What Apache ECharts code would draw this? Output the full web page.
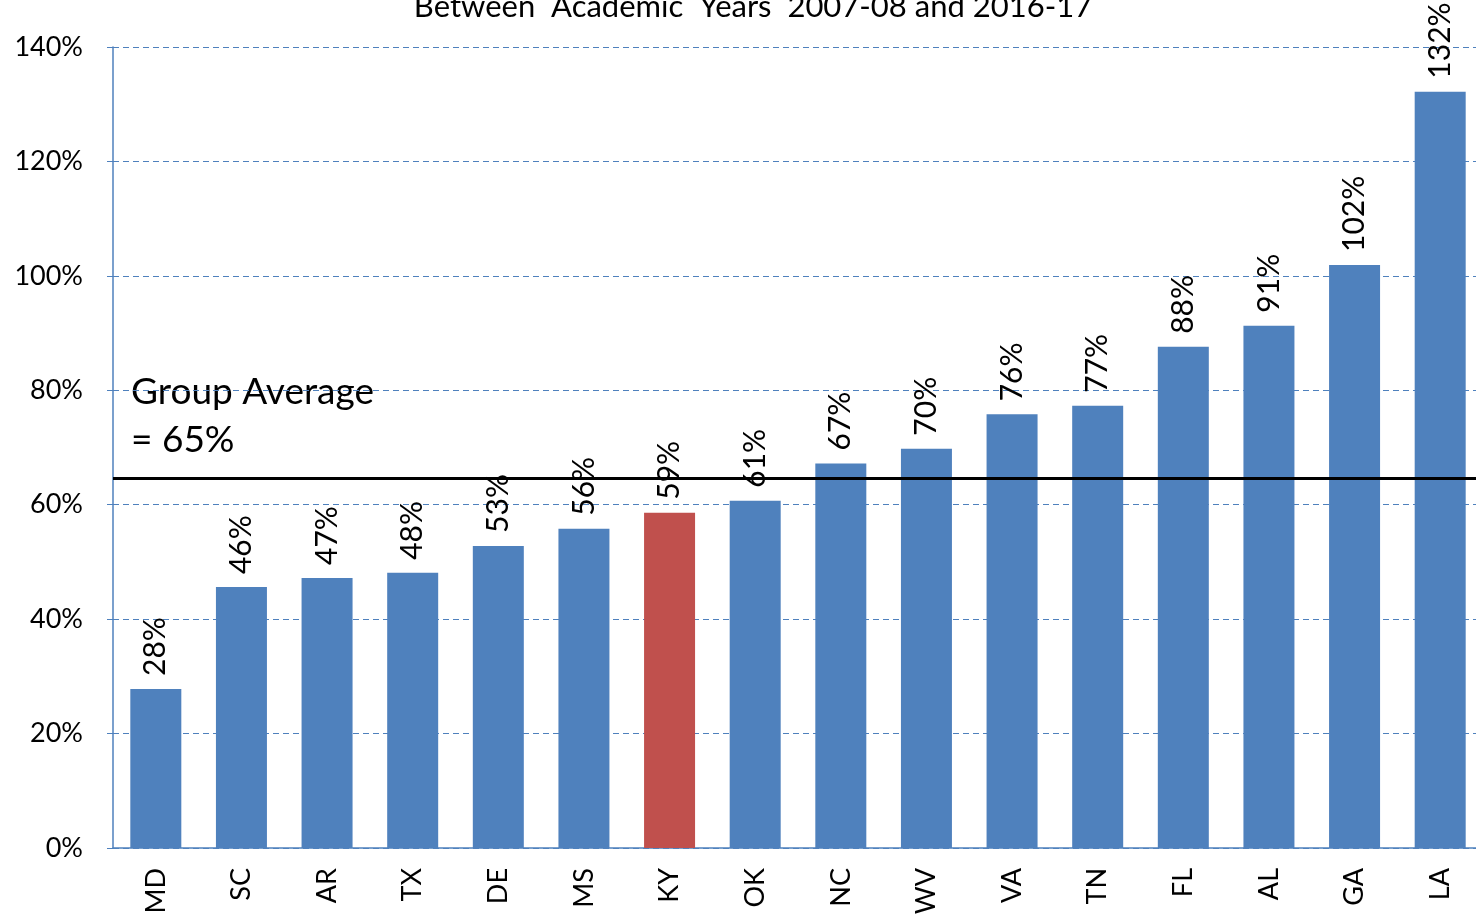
<!DOCTYPE html>
<html>
<head>
<meta charset="utf-8">
<script src="https://cdn.jsdelivr.net/npm/echarts@6/dist/echarts.min.js"></script>
<style>
  html, body { margin: 0; padding: 0; background: #fff; }
  #chart { width: 1476px; height: 915px; }
</style>
</head>
<body>
<div id="chart"></div>
<script>
var states = ["MD", "SC", "AR", "TX", "DE", "MS", "KY", "OK", "NC", "WV", "VA", "TN", "FL", "AL", "GA", "LA"];
var growth = [27.8, 45.6, 47.2, 48.1, 52.8, 55.8, 58.6, 60.7, 67.2, 69.8, 75.8, 77.3, 87.6, 91.3, 101.9, 132.2];
var highlight = ["KY"];
var groupAverage = [64.6];
var yTicks = [0, 20, 40, 60, 80, 100, 120, 140];

var font = "Lato, 'Open Sans', sans-serif";
var blue = "#4F81BD";
var red = "#C0504D";

var chart = echarts.init(document.getElementById("chart"));
chart.setOption({
  animation: false,
  textStyle: { fontFamily: font },
  title: {
    text: "Between  Academic  Years  2007-08 and 2016-17",
    left: 748,
    textAlign: "center",
    top: -14,
    textStyle: { fontFamily: font, fontSize: 31, fontWeight: "normal", color: "#000" }
  },
  grid: { left: 113, top: 47, width: 1370, height: 801, outerBoundsMode: "none" },
  xAxis: {
    type: "category",
    data: states,
    axisLine: { lineStyle: { color: blue, width: 1.5 } },
    axisTick: { show: false },
    axisLabel: { rotate: 90, margin: 20, fontSize: 27, color: "#000", fontFamily: font }
  },
  yAxis: {
    type: "value",
    min: yTicks[0],
    max: yTicks[yTicks.length - 1],
    interval: 20,
    axisLine: { show: true, lineStyle: { color: blue, width: 1.5 } },
    axisTick: { show: true, length: 6, lineStyle: { color: blue } },
    axisLabel: { formatter: "{value}%", fontSize: 27, color: "#000", margin: 30, fontFamily: font },
    splitLine: { lineStyle: { color: blue, type: [6, 4], width: 1.2 } }
  },
  graphic: [{
    type: "text",
    left: 131,
    top: 368,
    style: {
      text: "Group Average\n= " + Math.round(groupAverage[0]) + "%",
      font: "37px " + font,
      lineHeight: 48,
      fill: "#000"
    }
  }],
  series: [{
    type: "bar",
    barWidth: 51,
    data: growth.map(function (v, i) {
      return {
        value: v,
        itemStyle: { color: highlight.indexOf(states[i]) >= 0 ? red : blue }
      };
    }),
    label: {
      show: true,
      position: "top",
      rotate: 90,
      align: "left",
      verticalAlign: "middle",
      distance: 13,
      fontSize: 30,
      color: "#000",
      fontFamily: font,
      formatter: function (p) { return Math.round(p.value) + "%"; }
    },
    markLine: {
      silent: true,
      symbol: "none",
      label: { show: false },
      lineStyle: { color: "#000", width: 3, type: "solid" },
      data: [{ yAxis: groupAverage[0] }]
    }
  }]
});
</script>
</body>
</html>
